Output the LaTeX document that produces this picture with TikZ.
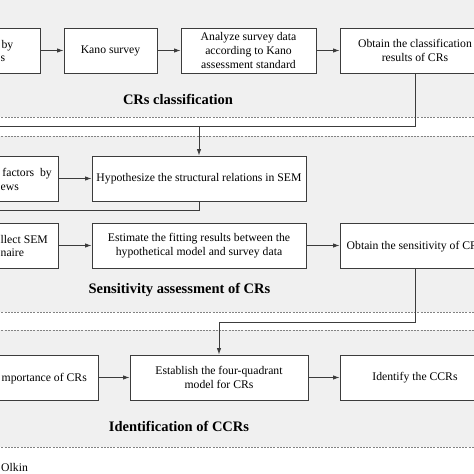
\documentclass[tikz,border=0pt]{standalone}
\usepackage{fontspec}
\setmainfont{Liberation Serif}
\usetikzlibrary{arrows.meta}
\definecolor{bgray}{RGB}{240,240,240}
\definecolor{dgray}{RGB}{130,130,130}
\definecolor{lgray}{RGB}{60,60,60}
\tikzset{
  box/.style={draw=lgray, line width=0.9pt, fill=white, minimum height=45pt, inner sep=2pt, align=center, font=\fontsize{11.7}{13.6}\selectfont},
  frag/.style={inner sep=0pt, anchor=base east, font=\fontsize{11.7}{13.6}\selectfont},
  fragw/.style={inner sep=0pt, anchor=base west, font=\fontsize{11.7}{13.6}\selectfont},
  ttl/.style={inner sep=0pt, font=\fontsize{14.5}{16}\selectfont\bfseries},
  sep/.style={draw=dgray, line width=0.8pt, dash pattern=on 2pt off 1.2pt},
  conn/.style={draw=lgray, line width=0.9pt},
  arr/.style={conn, -{Latex[length=6.5pt,width=4.5pt]}},
  region/.style={fill=bgray, draw=none}
}
\begin{document}
\begin{tikzpicture}[x=1pt,y=-1pt]
\useasboundingbox (0,0) rectangle (474,474);
\clip (0,0) rectangle (474,474);
\fill[white] (0,0) rectangle (474,474);
% regions
\path[region] (-5,-5) rectangle (480,117);
\path[region] (-5,136) rectangle (480,312);
\path[region] (-5,330) rectangle (480,447);
\foreach \yy in {117,136,312,330,447} \draw[sep] (-5,\yy) -- (480,\yy);
% row 1
\node[box, minimum width=102pt] (b1) at (-11,50.5) {};
\node[frag] (b1t1) at (13.5,48) {by};
\node[fragw] (b1t2) at (0.5,61.6) {s};
\node[box, minimum width=93pt] (b2) at (110.5,50.5) {Kano survey};
\node[box, minimum width=135pt] (b3) at (248.5,50.5) {Analyze survey data\\according to Kano\\assessment standard};
\node[box, minimum width=150pt] (b4) at (415,50.5) {Obtain the classification\\results of CRs};
\draw[arr] (b1.east) -- (b2.west);
\draw[arr] (b2.east) -- (b3.west);
\draw[arr] (b3.east) -- (b4.west);
\node[ttl] (t1) at (178,99) {CRs classification};
% connector 1
\coordinate (j1) at (415,126);
\coordinate (j1m) at (199,126);
\coordinate (j1l) at (-5,126);
% row A
\node[box, minimum width=160pt] (a1) at (-22,178.5) {};
\node[frag] (a1t1) at (52,176.5) {factors\ \ by};
\node[fragw] (a1t2) at (0.5,190) {ews};
\node[box, minimum width=214pt] (a2) at (199,178.5) {Hypothesize the structural relations in SEM};
\draw[arr] (a1.east) -- (a2.west);
\draw[conn] (b4.south) -- (j1) -- (j1l);
\draw[arr] (j1m) -- (a2.north);
\coordinate (j2) at (199,210);
\coordinate (j2l) at (-5,210);
\draw[conn] (a2.south) -- (j2) -- (j2l);
% row B
\node[box, minimum width=160pt] (bb1) at (-22,245.5) {};
\node[frag] (bb1t1) at (48,243) {llect SEM};
\node[fragw] (bb1t2) at (0.5,256.6) {naire};
\node[box, minimum width=214pt] (bb2) at (199,245.5) {Estimate the fitting results between the\\hypothetical model and survey data};
\node[box, minimum width=150pt] (bb3) at (415,245.5) {};
\node[fragw] (bb3t) at (346.5,249.5) {Obtain the sensitivity of CRs};
\draw[arr] (bb1.east) -- (bb2.west);
\draw[arr] (bb2.east) -- (bb3.west);
\node[ttl] (t2) at (179.5,290) {Sensitivity assessment of CRs};
% connector 2
\coordinate (j3) at (415,322);
\coordinate (j3m) at (219,322);
% row C
\node[box, minimum width=200pt] (c1) at (-2,377.5) {};
\node[frag] (c1t) at (87,381.5) {mportance of CRs};
\node[box, minimum width=178pt] (c2) at (219,377.5) {Establish the four-quadrant\\model for CRs};
\node[box, minimum width=150pt] (c3) at (415,377.5) {Identify the CCRs};
\draw[arr] (c1.east) -- (c2.west);
\draw[arr] (c2.east) -- (c3.west);
\draw[conn] (bb3.south) -- (j3) -- (j3m);
\draw[arr] (j3m) -- (c2.north);
\node[ttl] (t3) at (179,426) {Identification of CCRs};
\node[fragw] (olk) at (1,471) {Olkin};
\end{tikzpicture}
\end{document}
